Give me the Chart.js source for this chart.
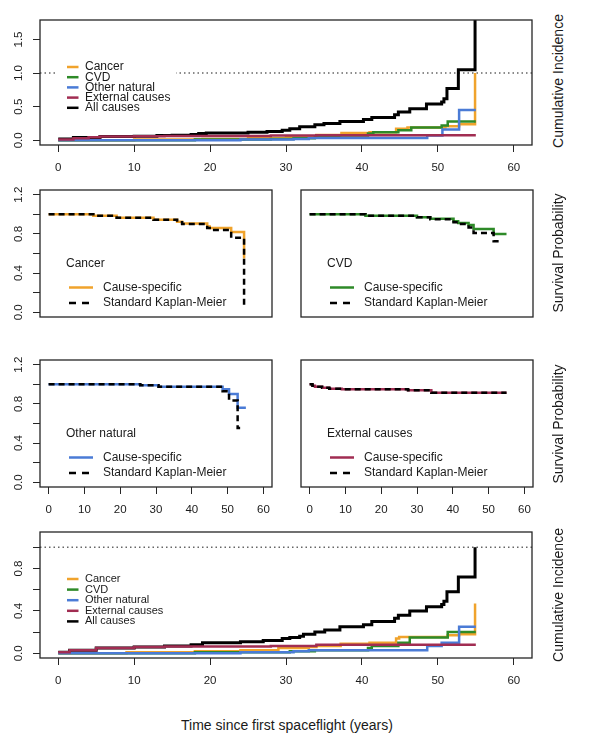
<!DOCTYPE html>
<html>
<head>
<meta charset="utf-8">
<title>Cumulative incidence and survival after first spaceflight</title>
<script src="https://cdn.jsdelivr.net/npm/chart.js@4.4.1/dist/chart.umd.min.js"></script>
<style>
  html, body { margin: 0; padding: 0; background: #fff; }
  #page { position: relative; width: 600px; height: 738px; overflow: hidden;
          font-family: "Liberation Sans", Arial, sans-serif; color: #1a1a1a; }
  canvas { position: absolute; }
  .side { position: absolute; white-space: nowrap; font-size: 14px; line-height: 1;
          transform: translate(-50%, -50%) rotate(-90deg); }
  #xtitle { position: absolute; left: 287px; top: 725px; white-space: nowrap; font-size: 14px;
            line-height: 1; transform: translate(-50%, -50%); }
</style>
</head>
<body>
<div id="page">
  <canvas id="topChart"></canvas>
  <canvas id="cancerChart"></canvas>
  <canvas id="cvdChart"></canvas>
  <canvas id="otherChart"></canvas>
  <canvas id="extChart"></canvas>
  <canvas id="bottomChart"></canvas>
  <div class="side" style="left:558px; top:81px">Cumulative Incidence</div>
  <div class="side" style="left:558px; top:253px">Survival Probability</div>
  <div class="side" style="left:558px; top:424px">Survival Probability</div>
  <div class="side" style="left:558px; top:595px">Cumulative Incidence</div>
  <div id="xtitle">Time since first spaceflight (years)</div>
</div>
<script>
// x axis (years since first flight)
const xTicks = [0, 10, 20, 30, 40, 50, 60];
const xMin = -2.4, xMax = 62.4;
const refLevel = 1;

// top panel: cumulative incidence
const topCancerTime = [0, 10, 19, 25, 30, 32, 34, 37.3, 41, 44.5, 46, 51, 52.8, 54.9];
const topCancerInc  = [0, 0.01, 0.02, 0.03, 0.05, 0.06, 0.08, 0.11, 0.12, 0.17, 0.19, 0.21, 0.24, 1.0];
const topCvdTime = [0, 18, 28, 31, 33.8, 37, 40.8, 41.5, 44.8, 46.5, 50.5, 51.3, 55];
const topCvdInc  = [0, 0.01, 0.02, 0.03, 0.05, 0.07, 0.10, 0.12, 0.15, 0.19, 0.22, 0.28, 0.28];
const topOtherTime = [0, 24, 31, 33, 48.6, 50.6, 52.8, 55];
const topOtherInc  = [0, 0.01, 0.02, 0.035, 0.07, 0.16, 0.45, 0.45];
const topExtTime = [0, 2, 4, 5.5, 10, 14, 28, 34, 55];
const topExtInc  = [0.01, 0.03, 0.045, 0.055, 0.06, 0.065, 0.07, 0.075, 0.075];
const topAllTime = [0, 2, 5.5, 10, 13, 15, 17.5, 18.5, 19.5, 25, 27.5, 29.5, 30.5, 31.8, 33.8, 35,
                    37.1, 40.2, 41.3, 44.3, 44.8, 46.3, 48.5, 50.5, 50.8, 51.2, 52.7, 54.9];
const topAllInc  = [0.02, 0.04, 0.055, 0.06, 0.07, 0.075, 0.085, 0.10, 0.11, 0.12, 0.13, 0.15, 0.17, 0.20,
                    0.23, 0.25, 0.28, 0.31, 0.34, 0.38, 0.42, 0.47, 0.54, 0.57, 0.62, 0.77, 1.05, 1.8];
const topYTicks = [0, 0.5, 1, 1.5];
const topYLabels = [0, 0.5, 1, 1.5];

// survival panels: cause-specific vs standard Kaplan-Meier
const cancerCsTime = [0, 12.5, 19, 29.3, 35.9, 37.3, 44.3, 45, 51, 54.6];
const cancerCsSurv = [1.0, 0.985, 0.965, 0.945, 0.925, 0.905, 0.875, 0.86, 0.82, 0.55];
const cancerKmTime = [0, 12.5, 19, 29.3, 35.9, 37.3, 44.3, 45, 51, 54.6];
const cancerKmSurv = [1.0, 0.985, 0.965, 0.945, 0.92, 0.90, 0.86, 0.84, 0.76, 0.05];

const cvdCsTime = [0, 15.6, 30, 33.7, 40.2, 41.5, 44.4, 45.8, 51.4, 55];
const cvdCsSurv = [1.0, 0.985, 0.97, 0.955, 0.93, 0.91, 0.89, 0.85, 0.80, 0.80];
const cvdKmTime = [0, 15.6, 30, 33.7, 40.2, 41.5, 44.4, 45.8, 51.4, 53.2];
const cvdKmSurv = [1.0, 0.985, 0.97, 0.95, 0.92, 0.90, 0.865, 0.81, 0.725, 0.725];

const otherCsTime = [0, 25.6, 30.7, 48.6, 50.4, 52.8, 55.1];
const otherCsSurv = [1.0, 0.99, 0.975, 0.95, 0.90, 0.76, 0.76];
const otherKmTime = [0, 25.6, 30.7, 48.6, 50.4, 52.8, 53.5];
const otherKmSurv = [1.0, 0.99, 0.975, 0.93, 0.835, 0.555, 0.555];

const extCsTime = [0, 0.8, 1.5, 3.5, 5.5, 9, 27.5, 34, 55];
const extCsSurv = [1.0, 0.985, 0.975, 0.965, 0.955, 0.95, 0.94, 0.915, 0.915];
const extKmTime = [0, 0.8, 1.5, 3.5, 5.5, 9, 27.5, 34, 55];
const extKmSurv = [1.0, 0.985, 0.975, 0.965, 0.955, 0.95, 0.94, 0.915, 0.915];

const survYTicks = [0, 0.2, 0.4, 0.6, 0.8, 1.0, 1.2];
const survYLabels = [0, 0.4, 0.8, 1.2];

// bottom panel: cumulative incidence
const botCancerTime = [0, 9, 18, 24, 29, 33, 34, 37.2, 41, 44.5, 44.9, 51.3, 52.8, 54.9];
const botCancerInc  = [0, 0.01, 0.02, 0.03, 0.05, 0.06, 0.07, 0.09, 0.10, 0.14, 0.155, 0.17, 0.18, 0.47];
const botCvdTime = [0, 18, 30.5, 33.8, 40.8, 41.3, 44.8, 46.3, 51.3, 55];
const botCvdInc  = [0, 0.01, 0.02, 0.03, 0.05, 0.07, 0.10, 0.15, 0.20, 0.20];
const botOtherTime = [0, 24, 31, 33, 48.6, 50.5, 52.8, 55];
const botOtherInc  = [0, 0.01, 0.02, 0.03, 0.07, 0.10, 0.25, 0.25];
const botExtTime = [0, 1.5, 5, 10, 14, 28, 34, 55];
const botExtInc  = [0.01, 0.03, 0.05, 0.06, 0.065, 0.07, 0.08, 0.08];
const botAllTime = [0, 1.5, 5, 10, 14, 17.5, 19, 24, 27, 29.5, 30.5, 31.8, 32.3, 33.8, 35.1, 37.1,
                    40.2, 41.3, 44.3, 44.8, 46.3, 48.5, 50.5, 50.8, 51.2, 52.7, 54.9];
const botAllInc  = [0.01, 0.03, 0.05, 0.06, 0.07, 0.08, 0.10, 0.11, 0.12, 0.14, 0.15, 0.16, 0.18, 0.20,
                    0.22, 0.25, 0.27, 0.30, 0.33, 0.36, 0.40, 0.44, 0.46, 0.49, 0.58, 0.72, 1.0];
const botYTicks = [0, 0.2, 0.4, 0.6, 0.8, 1.0];
const botYLabels = [0, 0.4, 0.8];

const causeNames = ['Cancer', 'CVD', 'Other natural', 'External causes', 'All causes'];
const colCancer = '#F0A32C', colCvd = '#2E8A28', colOther = '#4A7BD6', colExt = '#A12D52', colAll = '#000000';
const FONT = '"Liberation Sans", Arial, sans-serif';

function steps(times, values) {
    return times.map((t, i) => ({ x: t, y: values[i] }));
}

function stepLine(times, values, color, width, dash) {
    return {
        data: steps(times, values),
        borderColor: color,
        borderWidth: width,
        borderDash: dash || [],
        stepped: true,
        pointRadius: 0,
        fill: false,
        borderCapStyle: 'butt'
    };
}

function refLine() {
    return {
        data: [{ x: xMin, y: refLevel }, { x: xMax, y: refLevel }],
        borderColor: '#666',
        borderWidth: 1.5,
        borderDash: [1.5, 3],
        pointRadius: 0,
        fill: false
    };
}

// box, legends and panel labels drawn on top of the lines
const panelDecor = {
    id: 'panelDecor',
    afterDatasetsDraw(chart, args, o) {
        const a = chart.chartArea;
        const ctx = chart.ctx;
        ctx.save();
        if (o.entries) {
            ctx.fillStyle = '#fff';
            ctx.fillRect(a.left + 16, a.top + 38, 120, 57);
            ctx.font = o.font + 'px ' + FONT;
            ctx.textBaseline = 'middle';
            ctx.textAlign = 'left';
            o.entries.forEach((e, i) => {
                const y = a.top + 47 + i * o.step;
                ctx.strokeStyle = e.color;
                ctx.lineWidth = 2.5;
                ctx.beginPath();
                ctx.moveTo(a.left + 27, y);
                ctx.lineTo(a.left + 38.5, y);
                ctx.stroke();
                ctx.fillStyle = '#1a1a1a';
                ctx.fillText(e.label, a.left + 45, y);
            });
        }
        if (o.title) {
            ctx.font = '12px ' + FONT;
            ctx.textBaseline = 'middle';
            ctx.textAlign = 'left';
            ctx.fillStyle = '#1a1a1a';
            ctx.fillText(o.title, a.left + 26, a.top + 73.5);
            ctx.lineWidth = 2.5;
            ctx.strokeStyle = o.color;
            ctx.beginPath();
            ctx.moveTo(a.left + 29, a.top + 97.5);
            ctx.lineTo(a.left + 53, a.top + 97.5);
            ctx.stroke();
            ctx.strokeStyle = '#000';
            ctx.setLineDash([7, 6]);
            ctx.beginPath();
            ctx.moveTo(a.left + 29, a.top + 113);
            ctx.lineTo(a.left + 53, a.top + 113);
            ctx.stroke();
            ctx.setLineDash([]);
            ctx.fillText('Cause-specific', a.left + 63, a.top + 97.5);
            ctx.fillText('Standard Kaplan-Meier', a.left + 63, a.top + 113);
        }
        ctx.strokeStyle = '#262626';
        ctx.lineWidth = 1.3;
        ctx.strokeRect(a.left, a.top, a.right - a.left, a.bottom - a.top);
        ctx.restore();
    }
};

function panel(canvasId, box, opt) {
    const xh = opt.showX ? 40 : 16;
    const cv = document.getElementById(canvasId);
    const w = box.r - box.l + 48;
    const h = box.b - box.t + 16 + xh;
    cv.width = w;
    cv.height = h;
    cv.style.left = (box.l - 40) + 'px';
    cv.style.top = (box.t - 16) + 'px';
    cv.style.width = w + 'px';
    cv.style.height = h + 'px';

    return new Chart(cv, {
        type: 'line',
        data: { datasets: opt.datasets },
        options: {
            responsive: false,
            animation: false,
            layout: { padding: { left: 0, top: 16, right: 8, bottom: 0 } },
            plugins: {
                legend: { display: false },
                tooltip: { enabled: false },
                panelDecor: opt.decor
            },
            scales: {
                x: {
                    type: 'linear',
                    min: xMin,
                    max: xMax,
                    afterBuildTicks: s => { s.ticks = xTicks.map(v => ({ value: v })); },
                    afterFit: s => { s.height = xh; },
                    border: { display: false },
                    grid: { display: opt.showX, drawOnChartArea: false, drawTicks: true, tickLength: 7,
                            tickColor: '#262626', lineWidth: 1 },
                    ticks: { display: opt.showX, autoSkip: false, maxRotation: 0, padding: 9,
                             color: '#1a1a1a', font: { family: FONT, size: 11.5 },
                             callback: v => String(v) }
                },
                y: {
                    type: 'linear',
                    min: opt.yMin,
                    max: opt.yMax,
                    afterBuildTicks: s => { s.ticks = opt.yTicks.map(v => ({ value: v })); },
                    afterFit: s => { s.width = 40; },
                    border: { display: false },
                    grid: { display: opt.showY, drawOnChartArea: false, drawTicks: true, tickLength: 7,
                            tickColor: '#262626', lineWidth: 1 },
                    ticks: { display: opt.showY, autoSkip: false, minRotation: 90, maxRotation: 90,
                             crossAlign: 'center', padding: 6.5, color: '#1a1a1a',
                             font: { family: FONT, size: 11.5 },
                             callback: v => opt.yLabels.includes(v) ? v.toFixed(1) : '' }
                }
            }
        },
        plugins: [panelDecor]
    });
}

const cumEntries = [
    { label: causeNames[0], color: colCancer },
    { label: causeNames[1], color: colCvd },
    { label: causeNames[2], color: colOther },
    { label: causeNames[3], color: colExt },
    { label: causeNames[4], color: colAll }
];

panel('topChart', { l: 40, t: 20, r: 532, b: 145 }, {
    showX: true, showY: true, yMin: -0.07, yMax: 1.79, yTicks: topYTicks, yLabels: topYLabels,
    datasets: [
        stepLine(topExtTime, topExtInc, colExt, 2.5),
        stepLine(topOtherTime, topOtherInc, colOther, 2.5),
        stepLine(topCvdTime, topCvdInc, colCvd, 2.5),
        stepLine(topCancerTime, topCancerInc, colCancer, 2.5),
        stepLine(topAllTime, topAllInc, colAll, 3),
        refLine()
    ],
    decor: { entries: cumEntries, font: 12, step: 10.2 }
});

panel('cancerChart', { l: 40, t: 190, r: 272, b: 317 }, {
    showX: false, showY: true, yMin: -0.048, yMax: 1.248, yTicks: survYTicks, yLabels: survYLabels,
    datasets: [
        stepLine(cancerKmTime, cancerKmSurv, '#000', 2.5, [6, 4]),
        stepLine(cancerCsTime, cancerCsSurv, colCancer, 2.5)
    ],
    decor: { title: 'Cancer', color: colCancer }
});

panel('cvdChart', { l: 301, t: 190, r: 533, b: 317 }, {
    showX: false, showY: false, yMin: -0.048, yMax: 1.248, yTicks: survYTicks, yLabels: survYLabels,
    datasets: [
        stepLine(cvdKmTime, cvdKmSurv, '#000', 2.5, [6, 4]),
        stepLine(cvdCsTime, cvdCsSurv, colCvd, 2.5)
    ],
    decor: { title: 'CVD', color: colCvd }
});

panel('otherChart', { l: 40, t: 360, r: 272, b: 487 }, {
    showX: true, showY: true, yMin: -0.048, yMax: 1.248, yTicks: survYTicks, yLabels: survYLabels,
    datasets: [
        stepLine(otherKmTime, otherKmSurv, '#000', 2.5, [6, 4]),
        stepLine(otherCsTime, otherCsSurv, colOther, 2.5)
    ],
    decor: { title: 'Other natural', color: colOther }
});

panel('extChart', { l: 301, t: 360, r: 533, b: 487 }, {
    showX: true, showY: false, yMin: -0.048, yMax: 1.248, yTicks: survYTicks, yLabels: survYLabels,
    datasets: [
        stepLine(extKmTime, extKmSurv, '#000', 2.5, [6, 4]),
        stepLine(extCsTime, extCsSurv, colExt, 2.5)
    ],
    decor: { title: 'External causes', color: colExt }
});

panel('bottomChart', { l: 40, t: 532, r: 532, b: 658 }, {
    showX: true, showY: true, yMin: -0.044, yMax: 1.144, yTicks: botYTicks, yLabels: botYLabels,
    datasets: [
        stepLine(botExtTime, botExtInc, colExt, 2.5),
        stepLine(botOtherTime, botOtherInc, colOther, 2.5),
        stepLine(botCvdTime, botCvdInc, colCvd, 2.5),
        stepLine(botCancerTime, botCancerInc, colCancer, 2.5),
        stepLine(botAllTime, botAllInc, colAll, 3),
        refLine()
    ],
    decor: { entries: cumEntries, font: 11, step: 10.6 }
});
</script>
</body>
</html>
